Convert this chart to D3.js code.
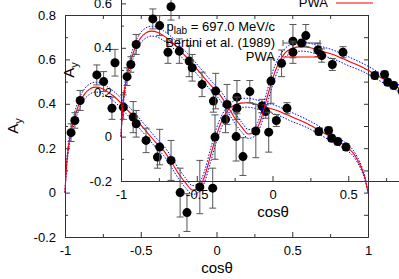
<!DOCTYPE html>
<html>
<head>
<meta charset="utf-8">
<script src="https://cdn.jsdelivr.net/npm/d3@7"></script>
<style>
  body { margin: 0; background: #fff; }
  svg { display: block; font-family: "Liberation Sans", Arial, sans-serif; }
</style>
</head>
<body>
<svg id="chart" width="399" height="279"></svg>
<script>
// Bertini et al. (1989) data, plab = 697.0 MeV/c
const cosTheta = [-0.96, -0.935, -0.90, -0.79, -0.745, -0.69, -0.67, -0.615, -0.55, -0.53,
  -0.465, -0.39, -0.375, -0.30, -0.24, -0.195, -0.11, -0.025, -0.01, 0.06,
  0.135, 0.135, 0.22, 0.30, 0.325, 0.395, 0.465, 0.675, 0.74, 0.76, 0.80, 0.855];
const ay = [0.27, 0.325, 0.415, 0.53, 0.50, 0.38, 0.585, 0.385, 0.34, 0.31,
  0.235, 0.16, 0.205, 0.145, 0.00, -0.09, 0.025, 0.02, 0.25, 0.33,
  0.43, 0.38, 0.455, 0.39, 0.365, 0.325, 0.38, 0.275, 0.28, 0.245, 0.23, 0.205];
const ayErr = [0.04, 0.035, 0.045, 0.045, 0.045, 0.05, 0.06, 0.055, 0.07, 0.06,
  0.055, 0.05, 0.08, 0.09, 0.11, 0.085, 0.12, 0.09, 0.1, 0.06,
  0.075, 0.05, 0.05, 0.03, 0.03, 0.027, 0.025, 0.015, 0.015, 0.015, 0.015, 0.015];

// PWA curve and its error band
const curveCos = [-1, -0.99, -0.98, -0.97, -0.96, -0.94, -0.92, -0.9, -0.87, -0.84,
  -0.8, -0.76, -0.72, -0.68, -0.64, -0.6, -0.55, -0.5, -0.45, -0.4,
  -0.35, -0.3, -0.25, -0.2, -0.16, -0.12, -0.08, -0.04, 0, 0.04,
  0.08, 0.12, 0.16, 0.2, 0.25, 0.3, 0.4, 0.5, 0.6, 0.7,
  0.8, 0.86, 0.9, 0.93, 0.96, 0.98, 1];
const pwa = [0, 0.12, 0.19, 0.24, 0.275, 0.33, 0.375, 0.41, 0.445, 0.465,
  0.475, 0.47, 0.455, 0.435, 0.41, 0.38, 0.345, 0.305, 0.265, 0.225,
  0.19, 0.14, 0.085, 0.04, 0.012, 0.02, 0.07, 0.165, 0.26, 0.33,
  0.375, 0.395, 0.403, 0.405, 0.40, 0.39, 0.37, 0.34, 0.31, 0.272,
  0.232, 0.205, 0.18, 0.148, 0.105, 0.065, 0];
const pwaUpper = [0, 0.13, 0.205, 0.26, 0.295, 0.352, 0.398, 0.433, 0.468, 0.488,
  0.497, 0.492, 0.477, 0.457, 0.432, 0.402, 0.367, 0.327, 0.287, 0.247,
  0.212, 0.163, 0.108, 0.062, 0.032, 0.04, 0.095, 0.195, 0.29, 0.355,
  0.395, 0.415, 0.423, 0.425, 0.42, 0.41, 0.39, 0.36, 0.328, 0.29,
  0.248, 0.22, 0.193, 0.16, 0.115, 0.072, 0];
const pwaLower = [0, 0.11, 0.175, 0.22, 0.255, 0.308, 0.352, 0.387, 0.422, 0.442,
  0.453, 0.448, 0.433, 0.413, 0.388, 0.358, 0.323, 0.283, 0.243, 0.203,
  0.168, 0.117, 0.062, 0.018, -0.008, 0.0, 0.045, 0.135, 0.23, 0.305,
  0.355, 0.375, 0.383, 0.385, 0.38, 0.37, 0.35, 0.32, 0.292, 0.254,
  0.216, 0.19, 0.167, 0.136, 0.095, 0.058, 0];

const xTicks = [-1, -0.5, 0, 0.5, 1];
const xMinor = [-0.75, -0.25, 0.25, 0.75];
const yTicks = [-0.2, 0, 0.2, 0.4, 0.6, 0.8];
const yMinor = [-0.1, 0.1, 0.3, 0.5, 0.7];
const legendRows = ['plab', 'data', 'pwa'];

const svg = d3.select('#chart');
const x = d3.scaleLinear().domain([-1, 1]).range([65, 368]);
const y = d3.scaleLinear().domain([-0.2, 0.8]).range([237, 15]);
const AXIS = '#333';

// the same figure appears twice, the second one shifted up and right
const panels = [
  { dx: 0, dy: 0, legendX: 328, legendY: -23, rows: ['pwa'] },
  { dx: 56, dy: -56, legendX: 219, legendY: 87, rows: legendRows }
];

const points = cosTheta.map((c, i) => ({ c, v: ay[i], e: ayErr[i] }));
const band = (arr) => curveCos.map((c, i) => [c, arr[i]]);
const line = d3.line().x(d => x(d[0])).y(d => y(d[1])).curve(d3.curveMonotoneX);

function styleAxis(g){
  g.select('.domain').attr('stroke', AXIS).attr('stroke-width', 1);
  g.selectAll('.tick line').attr('stroke', AXIS);
  g.selectAll('text').attr('fill', '#000').style('font-size', '13px');
}

function drawPanel(p){
  const g = svg.append('g').attr('transform', `translate(${p.dx},${p.dy})`);

  // frame + ticks (inside, mirrored)
  g.append('g').attr('transform', `translate(0,${y(-0.2)})`)
    .call(d3.axisBottom(x).tickValues(xTicks).tickFormat(d => String(d)).tickSizeInner(-5).tickSizeOuter(0).tickPadding(9))
    .call(styleAxis);
  g.append('g').attr('transform', `translate(0,${y(-0.2)})`)
    .call(d3.axisBottom(x).tickValues(xMinor).tickFormat('').tickSizeInner(-3).tickSizeOuter(0))
    .call(styleAxis);
  g.append('g').attr('transform', `translate(0,${y(0.8)})`)
    .call(d3.axisTop(x).tickValues(xTicks.concat(xMinor)).tickFormat('').tickSizeInner(-4).tickSizeOuter(0))
    .call(styleAxis);
  g.append('g').attr('transform', `translate(${x(-1)},0)`)
    .call(d3.axisLeft(y).tickValues(yTicks).tickFormat(d => String(d)).tickSizeInner(-5).tickSizeOuter(0).tickPadding(9))
    .call(styleAxis);
  g.append('g').attr('transform', `translate(${x(-1)},0)`)
    .call(d3.axisLeft(y).tickValues(yMinor).tickFormat('').tickSizeInner(-3).tickSizeOuter(0))
    .call(styleAxis);
  g.append('g').attr('transform', `translate(${x(1)},0)`)
    .call(d3.axisRight(y).tickValues(yTicks.concat(yMinor)).tickFormat('').tickSizeInner(-4).tickSizeOuter(0))
    .call(styleAxis);

  // axis titles
  g.append('text').attr('x', 217).attr('y', 273).attr('text-anchor', 'middle')
    .style('font-size', '15px').text('cosθ');
  const yt = g.append('text').attr('transform', 'translate(18,126) rotate(-90)')
    .attr('text-anchor', 'middle').style('font-size', '15px');
  yt.append('tspan').text('A');
  yt.append('tspan').attr('dy', 4).style('font-size', '11px').text('y');

  // PWA band and curve
  [pwaUpper, pwaLower].forEach(arr => {
    g.append('path').attr('d', line(band(arr))).attr('fill', 'none')
      .attr('stroke', '#0000ff').attr('stroke-width', 1).attr('stroke-dasharray', '1.5,1.5');
  });
  g.append('path').attr('d', line(band(pwa))).attr('fill', 'none')
    .attr('stroke', '#ff0000').attr('stroke-width', 1.1);

  // data with error bars
  const pt = g.append('g').selectAll('g').data(points).join('g');
  pt.append('line').attr('x1', d => x(d.c)).attr('x2', d => x(d.c))
    .attr('y1', d => y(d.v - d.e)).attr('y2', d => y(d.v + d.e))
    .attr('stroke', '#555');
  [1, -1].forEach(s => {
    pt.append('line').attr('x1', d => x(d.c) - 3.5).attr('x2', d => x(d.c) + 3.5)
      .attr('y1', d => y(d.v + s * d.e)).attr('y2', d => y(d.v + s * d.e))
      .attr('stroke', '#555');
  });
  pt.append('circle').attr('cx', d => x(d.c)).attr('cy', d => y(d.v)).attr('r', 4.5).attr('fill', '#000');

  // legend
  const lg = g.append('g').style('font-size', '13px');
  const rowY = { plab: p.legendY, data: p.legendY + 16, pwa: p.legendY + 30 };
  const kx0 = p.legendX + 8, kx1 = p.legendX + 45;
  p.rows.forEach(r => {
    const yy = rowY[r];
    if (r === 'plab') {
      const t = lg.append('text').attr('x', p.legendX).attr('y', yy).attr('text-anchor', 'end');
      t.append('tspan').text('p');
      t.append('tspan').attr('dy', 3).style('font-size', '10px').text('lab');
      t.append('tspan').attr('dy', -3).text(' = 697.0 MeV/c');
    } else if (r === 'data') {
      lg.append('text').attr('x', p.legendX).attr('y', yy).attr('text-anchor', 'end').text('Bertini et al. (1989)');
      const ky = yy - 4;
      lg.append('line').attr('x1', kx0).attr('x2', kx1).attr('y1', ky).attr('y2', ky).attr('stroke', '#555');
      [kx0, kx1].forEach(kx => lg.append('line').attr('x1', kx).attr('x2', kx).attr('y1', ky - 3).attr('y2', ky + 3).attr('stroke', '#555'));
      lg.append('circle').attr('cx', (kx0 + kx1) / 2).attr('cy', ky).attr('r', 4.5).attr('fill', '#000');
    } else {
      lg.append('text').attr('x', p.legendX).attr('y', yy).attr('text-anchor', 'end').text('PWA');
      lg.append('line').attr('x1', kx0).attr('x2', kx1).attr('y1', yy - 4).attr('y2', yy - 4)
        .attr('stroke', '#ff0000').attr('stroke-width', 1.2);
    }
  });
}

panels.forEach(drawPanel);
</script>
</body>
</html>
